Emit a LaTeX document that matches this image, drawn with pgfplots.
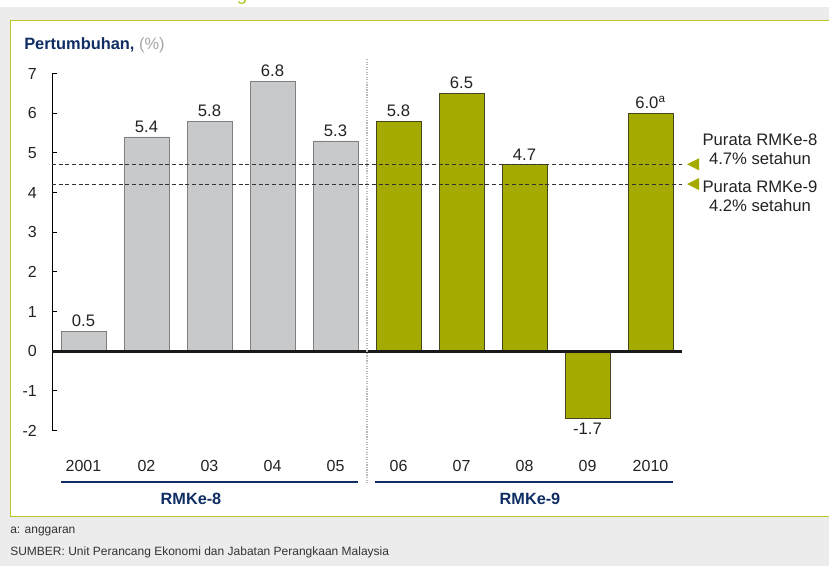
\documentclass[border=0pt]{standalone}
\usepackage{pgfplots}
\pgfplotsset{compat=1.18}
\usepackage{fontspec}
\setmainfont{Liberation Sans}
\definecolor{navy}{RGB}{16,46,100}
\definecolor{olivebar}{RGB}{165,170,0}
\definecolor{oliveedge}{RGB}{70,70,30}
\definecolor{graybar}{RGB}{200,201,203}
\definecolor{grayedge}{RGB}{128,128,128}
\definecolor{panelborder}{RGB}{187,196,45}
\definecolor{bggray}{RGB}{236,236,236}
\definecolor{titlegreen}{RGB}{170,200,30}
\definecolor{txt}{RGB}{35,35,35}
\begin{document}
\begin{tikzpicture}
\begin{scope}[x=0.75pt,y=-0.75pt]
\useasboundingbox (0,0) rectangle (829,566);
\fill[bggray] (0,0) rectangle (829,566);
\fill[white] (0,0) rectangle (829,7);
\begin{scope}
\clip (0,0) rectangle (829,7);
\node[anchor=base, text=titlegreen, font=\fontsize{14}{16}\selectfont, inner sep=0pt] at (242,1) {g};
\end{scope}
\filldraw[fill=white, draw=panelborder, line width=1pt] (10.5,20.5) rectangle (840,516.5);
\node[anchor=base west, inner sep=0pt, font=\fontsize{12.3}{14}\selectfont] at (24,50) {\textcolor{navy}{\bfseries Pertumbuhan,} \textcolor{gray!70}{(\%)}};
\end{scope}

\begin{axis}[
  at={(39pt,-322.875pt)}, anchor=south west,
  scale only axis, width=472.5pt, height=267.75pt,
  xmin=-0.5, xmax=9.5, ymin=-2, ymax=7,
  axis lines*=left,
  axis line style={-},
  x axis line style={draw=none},
  y axis line style={black, line width=0.7pt},
  ytick={-2,-1,0,1,2,3,4,5,6,7},
  xtick={0,1,2,3,4,5,6,7,8,9},
  xticklabels={2001,02,03,04,05,06,07,08,09,2010},
  ytick pos=left, tick align=inside, major tick length=3.75pt,
  x tick style={draw=none},
  y tick style={black, line width=0.6pt},
  ticklabel style={font=\fontsize{12}{14}\selectfont, text=txt},
  xticklabel style={anchor=center, yshift=-22.9pt, inner sep=0pt},
  yticklabel style={anchor=east, xshift=-11.25pt, inner sep=0pt},
  /pgf/number format/assume math mode=true,
  clip=false,
  ybar, bar width=33.75pt, bar shift=0pt,
  point meta=explicit symbolic,
  nodes near coords,
  every node near coord/.append style={font=\fontsize{12.5}{14}\selectfont, text=txt, inner sep=3pt},
]
\addplot[fill=graybar, draw=grayedge, line width=0.6pt] coordinates {(0,0.5)[0.5] (1,5.4)[5.4] (2,5.8)[5.8] (3,6.8)[6.8] (4,5.3)[5.3]};
\addplot[fill=olivebar, draw=oliveedge, line width=0.6pt] coordinates {(5,5.8)[5.8] (6,6.5)[6.5] (7,4.7)[4.7] (9,6.0)[6.0\textsuperscript{a}]};
\addplot[fill=olivebar, draw=oliveedge, line width=0.6pt, every node near coord/.append style={anchor=north}] coordinates {(8,-1.7)[-1.7]};
\draw[line width=0.5pt, dash pattern=on 3pt off 2pt, black!80] (axis cs:-0.5,4.7) -- (axis cs:9.5,4.7);
\draw[line width=0.5pt, dash pattern=on 3pt off 2pt, black!80] (axis cs:-0.5,4.2) -- (axis cs:9.5,4.2);
\draw[line width=2.25pt, black!90] (axis cs:-0.5,0) -- (axis cs:9.5,0);
\end{axis}

\begin{scope}[x=0.75pt,y=-0.75pt]
\fill[olivebar] (687,164.3) -- (699,158.3) -- (699,170.3) -- cycle;
\fill[olivebar] (687,184.1) -- (699,178.1) -- (699,190.1) -- cycle;
\draw[gray!55, densely dotted, line width=0.9pt] (367,59) -- (367,483);
\draw[navy, line width=1.6pt] (61,481.7) -- (358,481.7);
\draw[navy, line width=1.6pt] (375,481.7) -- (673,481.7);
\node[font=\fontsize{12.2}{14}\selectfont\bfseries, text=navy, inner sep=0pt] at (191,499) {RMKe-8};
\node[font=\fontsize{12.2}{14}\selectfont\bfseries, text=navy, inner sep=0pt] at (530,499) {RMKe-9};
\begin{scope}[every node/.style={anchor=base, inner sep=0pt, font=\fontsize{12.5}{14}\selectfont, text=txt}]
\node at (760,146) {Purata RMKe-8};
\node at (760,165) {4.7\% setahun};
\node at (760,193) {Purata RMKe-9};
\node at (760,212) {4.2\% setahun};
\end{scope}
\begin{scope}[every node/.style={anchor=base west, inner sep=0pt, font=\fontsize{9}{11}\selectfont, text=black!80}]
\node at (10,534) {a: anggaran};
\node at (10,556) {SUMBER: Unit Perancang Ekonomi dan Jabatan Perangkaan Malaysia};
\end{scope}
\end{scope}
\end{tikzpicture}
\end{document}
